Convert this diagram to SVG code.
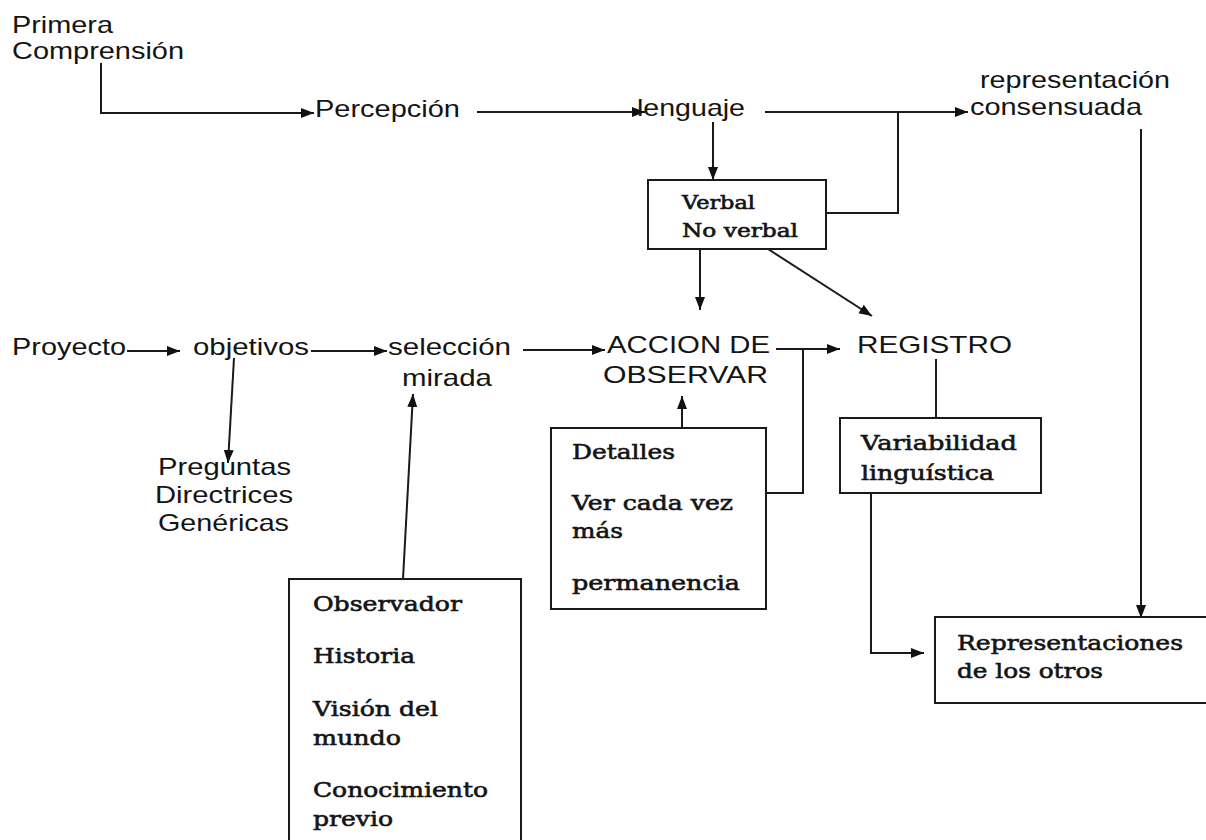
<svg xmlns="http://www.w3.org/2000/svg" width="1206" height="840" viewBox="0 0 1206 840">
<style>
.s{font-family:"Liberation Sans",Arial,sans-serif;font-size:24px;fill:#141414}
.r{font-family:"DejaVu Serif","Liberation Serif",serif;font-size:21px;fill:#141414;stroke:#141414;stroke-width:0.6}
.rs{font-family:"DejaVu Serif","Liberation Serif",serif;font-size:18px;fill:#141414;stroke:#141414;stroke-width:0.6}
.c{fill:none;stroke:#1a1a1a;stroke-width:2}
.a{marker-end:url(#ah)}
.b{fill:#fff;stroke:#1a1a1a;stroke-width:2}
</style>
<defs>
<marker id="ah" markerUnits="userSpaceOnUse" markerWidth="14" markerHeight="12" refX="13" refY="5" orient="auto">
<path d="M0,0 L13,5 L0,10 z" fill="#111"/>
</marker>
</defs>
<rect width="1206" height="840" fill="#fff"/>

<g id="connectors">
<path class="c a" d="M101,63 V113 H314"/>
<path class="c a" d="M477,112 H645"/>
<path class="c a" d="M713,122 V180"/>
<path class="c a" d="M765,112 H968"/>
<path class="c" d="M826,213 H898 V112"/>
<path class="c a" d="M1141,129 V618"/>
<path class="c a" d="M127,351 H180"/>
<path class="c a" d="M311,351 H387"/>
<path class="c a" d="M234,358 L228,463"/>
<path class="c a" d="M523,350 H605"/>
<path class="c a" d="M403,579 L413,394"/>
<path class="c a" d="M682,428 V396"/>
<path class="c a" d="M700,249 V310"/>
<path class="c a" d="M768,249 L872,316"/>
<path class="c a" d="M776,349 H840"/>
<path class="c" d="M766,493 H803 V349"/>
<path class="c" d="M936,359 V418"/>
<path class="c a" d="M871,493 V653 H924"/>
</g>

<g id="primera">
<text class="s" x="12" y="33" textLength="101" lengthAdjust="spacingAndGlyphs">Primera</text>
<text class="s" x="12" y="59" textLength="172" lengthAdjust="spacingAndGlyphs">Comprensión</text>
</g>
<g id="percepcion"><text class="s" x="315" y="117" textLength="145" lengthAdjust="spacingAndGlyphs">Percepción</text></g>
<g id="lenguaje"><text class="s" x="637" y="116" textLength="108" lengthAdjust="spacingAndGlyphs">lenguaje</text></g>
<g id="representacion">
<text class="s" x="980" y="88" textLength="190" lengthAdjust="spacingAndGlyphs">representación</text>
<text class="s" x="970" y="115" textLength="172" lengthAdjust="spacingAndGlyphs">consensuada</text>
</g>
<g id="verbal">
<rect class="b" x="648" y="180" width="178" height="69"/>
<text class="rs" x="682" y="209" textLength="73" lengthAdjust="spacingAndGlyphs">Verbal</text>
<text class="rs" x="682" y="237" textLength="116" lengthAdjust="spacingAndGlyphs">No  verbal</text>
</g>
<g id="proyecto"><text class="s" x="12" y="355" textLength="114" lengthAdjust="spacingAndGlyphs">Proyecto</text></g>
<g id="objetivos"><text class="s" x="193" y="355" textLength="116" lengthAdjust="spacingAndGlyphs">objetivos</text></g>
<g id="seleccion">
<text class="s" x="388" y="355" textLength="123" lengthAdjust="spacingAndGlyphs">selección</text>
<text class="s" x="402" y="386" textLength="90" lengthAdjust="spacingAndGlyphs">mirada</text>
</g>
<g id="accion">
<text class="s" x="607" y="353" textLength="163" lengthAdjust="spacingAndGlyphs">ACCION DE</text>
<text class="s" x="603" y="383" textLength="165" lengthAdjust="spacingAndGlyphs">OBSERVAR</text>
</g>
<g id="registro"><text class="s" x="857" y="353" textLength="155" lengthAdjust="spacingAndGlyphs">REGISTRO</text></g>
<g id="preguntas">
<text class="s" x="158" y="475" textLength="133" lengthAdjust="spacingAndGlyphs">Preguntas</text>
<text class="s" x="155" y="503" textLength="138" lengthAdjust="spacingAndGlyphs">Directrices</text>
<text class="s" x="158" y="531" textLength="131" lengthAdjust="spacingAndGlyphs">Genéricas</text>
</g>
<g id="detalles">
<rect class="b" x="551" y="428" width="215" height="181"/>
<text class="r" x="572" y="459" textLength="103" lengthAdjust="spacingAndGlyphs">Detalles</text>
<text class="r" x="572" y="510" textLength="161" lengthAdjust="spacingAndGlyphs">Ver cada vez</text>
<text class="r" x="572" y="538" textLength="51" lengthAdjust="spacingAndGlyphs">más</text>
<text class="r" x="572" y="590" textLength="168" lengthAdjust="spacingAndGlyphs">permanencia</text>
</g>
<g id="variabilidad">
<rect class="b" x="840" y="418" width="201" height="75"/>
<text class="r" x="861" y="450" textLength="156" lengthAdjust="spacingAndGlyphs">Variabilidad</text>
<text class="r" x="861" y="480" textLength="133" lengthAdjust="spacingAndGlyphs">linguística</text>
</g>
<g id="observador">
<rect class="b" x="289" y="579" width="232" height="275"/>
<text class="r" x="313" y="611" textLength="149" lengthAdjust="spacingAndGlyphs">Observador</text>
<text class="r" x="313" y="663" textLength="102" lengthAdjust="spacingAndGlyphs">Historia</text>
<text class="r" x="313" y="716" textLength="125" lengthAdjust="spacingAndGlyphs">Visión del</text>
<text class="r" x="313" y="745" textLength="88" lengthAdjust="spacingAndGlyphs">mundo</text>
<text class="r" x="313" y="797" textLength="175" lengthAdjust="spacingAndGlyphs">Conocimiento</text>
<text class="r" x="313" y="826" textLength="80" lengthAdjust="spacingAndGlyphs">previo</text>
</g>
<g id="representaciones">
<rect class="b" x="935" y="617" width="280" height="86"/>
<text class="r" x="957" y="650" textLength="226" lengthAdjust="spacingAndGlyphs">Representaciones</text>
<text class="r" x="957" y="678" textLength="146" lengthAdjust="spacingAndGlyphs">de los otros</text>
</g>
</svg>
